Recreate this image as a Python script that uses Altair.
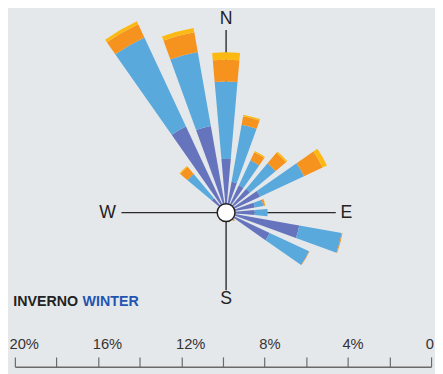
import math
import altair as alt
import pandas as pd

# ---------------- data ----------------
# wind directions (degrees, clockwise from north)
directions = [315, 330, 345, 0, 15, 30, 45, 60, 75, 90, 105, 120, 135]
speed_classes = ["classe 1", "classe 2", "classe 3", "classe 4"]
# frequency (%) of each speed class, per direction
class1 = [0.90, 4.56, 4.22, 2.58, 1.50, 1.45, 1.50, 1.80, 1.40, 1.37, 3.57, 2.31, 0.30]
class2 = [1.52, 4.73, 3.62, 3.72, 2.79, 1.32, 1.60, 2.33, 0.42, 0.60, 2.07, 2.09, 0.15]
class3 = [0.46, 0.70, 0.96, 1.05, 0.41, 0.43, 0.66, 0.99, 0.08, 0.03, 0.04, 0.02, 0.10]
class4 = [0.05, 0.15, 0.21, 0.35, 0.08, 0.06, 0.08, 0.23, 0.02, 0.00, 0.00, 0.00, 0.00]
class_colors = ["#6674be", "#5aa9dd", "#f6931f", "#fdb913"]

scale_ticks = [0, 2, 4, 6, 8, 10, 12, 14, 16, 18, 20]
compass_points = ["N", "E", "S", "W"]
title_words = ["INVERNO", "WINTER"]

# ---------------- layout ----------------
W, H = 424, 362
PX = W / 20.0              # pixels per percent
CX = 9.85                  # rose centre on the % scale
CY_PIX = 205               # rose centre, px from top of plot
Y_HI = CY_PIX / PX
Y_LO = -(H - CY_PIX) / PX
HALF_WIDTH = 5             # half angular width of each sector (deg)
FONT = "Liberation Sans"

rows = []
for i, d in enumerate(directions):
    base = 0.0
    for cls, vals in zip(speed_classes, [class1, class2, class3, class4]):
        v = vals[i]
        if v > 0:
            rows.append(dict(dir=d, cls=cls, t0=d - HALF_WIDTH, t1=d + HALF_WIDTH,
                             r0=base, r1=base + v))
        base += v
df = pd.DataFrame(rows)
one = pd.DataFrame({"k": [0]})

xs = alt.Scale(domain=[20, 0], range=[0, W], nice=False, zero=False)
ys = alt.Scale(domain=[Y_LO, Y_HI], nice=False, zero=False)
label_expr = ("datum.value % 4 == 0 ? (datum.value == 0 ? '0' : datum.value + '%') : ''")
xaxis = alt.Axis(orient="top", offset=-H, values=scale_ticks, tickSize=10,
                 tickColor="#6a6a6a", tickWidth=1.2, domainColor="#6a6a6a",
                 domainWidth=1.5, labelExpr=label_expr, labelAlign="left",
                 labelOffset=-6, labelBaseline="alphabetic", labelPadding=9,
                 labelFont=FONT, labelFontSize=15, labelColor="#333333",
                 grid=False, title=None, labelFlush=False, labelOverlap=False,
                 labelBound=False)


def X(v):
    return alt.XDatum(v, scale=xs, axis=xaxis)


def Y(v):
    return alt.YDatum(v, scale=ys, axis=None)


rose = alt.Chart(df).mark_arc().encode(
    x=X(CX),
    y=Y(0),
    theta=alt.Theta("t0:Q", scale=alt.Scale(domain=[0, 360], range=[0, 2 * math.pi]),
                    stack=None),
    theta2="t1:Q",
    radius=alt.Radius("r1:Q", scale=alt.Scale(type="linear", domain=[0, 10],
                                              range=[0, 10 * PX]), stack=None),
    radius2="r0:Q",
    color=alt.Color("cls:N", scale=alt.Scale(domain=speed_classes, range=class_colors),
                    legend=None),
)

line_style = dict(color="#2a2a2a", strokeWidth=1.4)
hline = alt.Chart(one).mark_rule(**line_style).encode(
    x=X(CX + 5.03), x2=alt.datum(CX - 5.27), y=Y(0))
vline = alt.Chart(one).mark_rule(**line_style).encode(
    x=X(CX), y=Y(8.77), y2=alt.datum(-3.73))

centre = alt.Chart(one).mark_point(filled=True, fill="white", stroke="#222222",
                                   strokeWidth=1.5, size=330, opacity=1,
                                   shape="circle").encode(x=X(CX), y=Y(0))

compass_pos = {"N": (CX, 9.28), "E": (CX - 5.78, 0), "S": (CX, -4.18), "W": (CX + 5.70, 0)}
compass_layers = []
for name in compass_points:
    px_, py_ = compass_pos[name]
    compass_layers.append(
        alt.Chart(one).mark_text(text=name, font=FONT, fontSize=18, color="#222222",
                                 baseline="middle", align="center").encode(
            x=X(px_), y=Y(py_)))

title_inv = alt.Chart(one).mark_text(text=title_words[0], font=FONT, fontSize=14.5,
                                     fontWeight="bold", color="#222222", align="left",
                                     baseline="alphabetic").encode(
    x=alt.value(-1.7), y=alt.value(300))
title_win = alt.Chart(one).mark_text(text=title_words[1], font=FONT, fontSize=14.5,
                                     fontWeight="bold", color="#1f55b0", align="left",
                                     baseline="alphabetic").encode(
    x=alt.value(69), y=alt.value(300))

chart = alt.layer(hline, vline, rose, centre, *compass_layers, title_inv, title_win).properties(
    width=W, height=H,
    autosize=alt.AutoSizeParams(type="none"),
    padding={"left": 7, "top": 0, "right": 4, "bottom": 4},
    background="#e5e8eb",
).configure_view(stroke=None)

chart.save("out.html", embed_options={"renderer": "svg", "actions": False})
